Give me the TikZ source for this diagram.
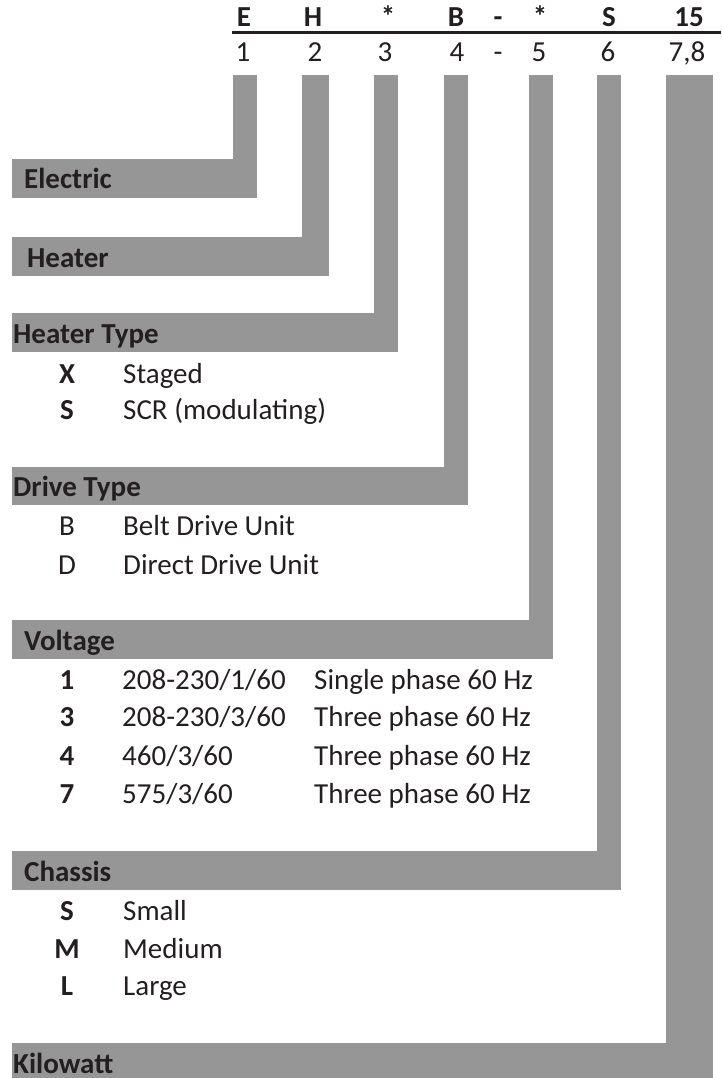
\documentclass[tikz,border=0pt]{standalone}
\usepackage{fontspec}
\setmainfont{Carlito}
\definecolor{barc}{RGB}{150,150,150}
\definecolor{txt}{RGB}{35,31,32}
\newcommand\myfs{\fontsize{29}{35}\selectfont}
\begin{document}
\begin{tikzpicture}[x=1pt,y=-1pt,
  bar/.style={fill=barc,draw=none},
  band/.style={fill=barc,draw=none,inner sep=0,anchor=north west,minimum height=38.5},
  lab/.style={anchor=base west,inner sep=0,font=\bfseries\myfs,text=txt},
  code/.style={anchor=base,inner sep=0,font=\bfseries\myfs,text=txt},
  desc/.style={anchor=base west,inner sep=0,font=\myfs,text=txt},
  hdr/.style={anchor=base,inner sep=0,font=\bfseries\myfs,text=txt},
  num/.style={anchor=base,inner sep=0,font=\myfs,text=txt}
]
\useasboundingbox (0,0) rectangle (721,1078);

% header
\node[hdr] (h1) at (244,27) {E};
\node[hdr] (h2) at (313,27) {H};
\node[hdr] (h3) at (388,27) {*};
\node[hdr] (h4) at (456,27) {B};
\node[hdr] (h5) at (498,27) {-};
\node[hdr] (h6) at (540,27) {*};
\node[hdr] (h7) at (609,27) {S};
\node[hdr] (h8) at (689,27) {15};
\coordinate (l0) at (232,32.5);
\coordinate (l1) at (721,32.5);
\draw[line width=3.5pt,txt] (l0) -- (l1);
\node[num] (n1) at (243,62) {1};
\node[num] (n2) at (315,62) {2};
\node[num] (n3) at (385,62) {3};
\node[num] (n4) at (457,62) {4};
\node[num] (n5) at (498,62) {-};
\node[num] (n6) at (539,62) {5};
\node[num] (n7) at (608,62) {6};
\node[num] (n8) at (687,62) {7,8};

% bands
\node[band,minimum width=245] (bE) at (12,159) {};
\node[band,minimum width=317] (bH) at (12,237) {};
\node[band,minimum width=386] (bT) at (12,313) {};
\node[band,minimum width=456] (bD) at (12,466.5) {};
\node[band,minimum width=541] (bV) at (12,620) {};
\node[band,minimum width=609] (bC) at (12,851) {};
\node[band,minimum width=701] (bK) at (12,1043) {};

% vertical bars
\coordinate (t1) at (233,75);
\coordinate (t2) at (302,75);
\coordinate (t3) at (374,75);
\coordinate (t4) at (444,75);
\coordinate (t5) at (529,75);
\coordinate (t6) at (597,75);
\coordinate (t7) at (666,75);
\fill[bar] (t1) rectangle (bE.south east);
\fill[bar] (t2) rectangle (bH.south east);
\fill[bar] (t3) rectangle (bT.south east);
\fill[bar] (t4) rectangle (bD.south east);
\fill[bar] (t5) rectangle (bV.south east);
\fill[bar] (t6) rectangle (bC.south east);
\fill[bar] (t7) rectangle (bK.south east);

% labels
\node[lab] (lE) at (24,189) {Electric};
\node[lab] (lH) at (27,267) {Heater};
\node[lab] (lT) at (13,343) {Heater Type};
\node[lab] (lD) at (13,496.5) {Drive Type};
\node[lab] (lV) at (24,650) {Voltage};
\node[lab] (lC) at (24,881) {Chassis};
\node[lab] (lK) at (13,1073) {Kilowatt};

% heater type
\node[code] (cX) at (67,383) {X};
\node[desc] (dX) at (123,383) {Staged};
\node[code] (cS) at (67,419) {S};
\node[desc] (dS) at (123,419) {SCR (modulating)};

% drive type
\node[num] (cB) at (67,535) {B};
\node[desc] (dB) at (123,535) {Belt Drive Unit};
\node[num] (cD) at (67,574) {D};
\node[desc] (dD) at (123,574) {Direct Drive Unit};

% voltage
\node[code] (v1c) at (67,689) {1};
\node[desc] (v1a) at (122,689) {208-230/1/60};
\node[desc] (v1b) at (314,689) {Single phase 60 Hz};
\node[code] (v3c) at (67,726.5) {3};
\node[desc] (v3a) at (122,726.5) {208-230/3/60};
\node[desc] (v3b) at (314,726.5) {Three phase 60 Hz};
\node[code] (v4c) at (67,765) {4};
\node[desc] (v4a) at (122,765) {460/3/60};
\node[desc] (v4b) at (314,765) {Three phase 60 Hz};
\node[code] (v7c) at (67,803) {7};
\node[desc] (v7a) at (122,803) {575/3/60};
\node[desc] (v7b) at (314,803) {Three phase 60 Hz};

% chassis
\node[code] (chS) at (67,920) {S};
\node[desc] (dSm) at (123,920) {Small};
\node[code] (chM) at (67,958) {M};
\node[desc] (dM) at (123,958) {Medium};
\node[code] (chL) at (67,995) {L};
\node[desc] (dL) at (123,995) {Large};
\end{tikzpicture}
\end{document}
